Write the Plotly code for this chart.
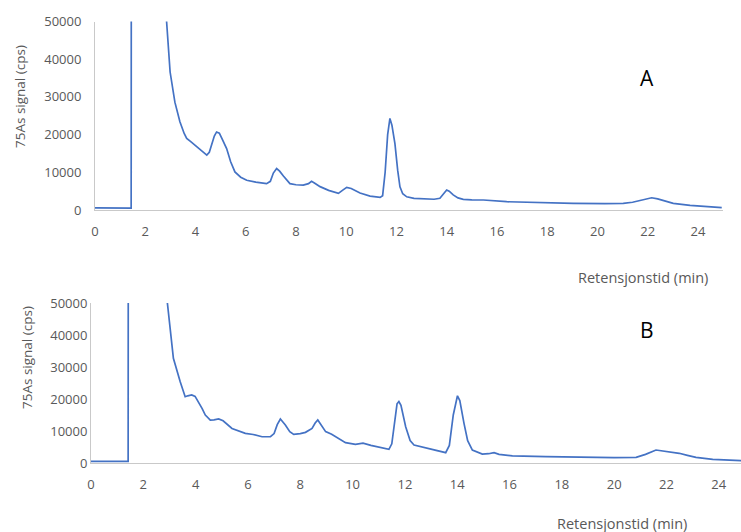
import plotly.graph_objects as go

# ---- data ----
t_A = [0, 0.5, 1.0, 1.44, 1.46, 2.5, 2.85, 2.99, 3.18, 3.38, 3.55, 3.65, 3.8, 3.98, 4.2, 4.45,
       4.55, 4.65, 4.75, 4.84, 4.95, 5.05, 5.24, 5.4, 5.57, 5.8, 6.04, 6.4, 6.83, 6.98, 7.1,
       7.23, 7.35, 7.5, 7.76, 8.0, 8.29, 8.5, 8.62, 8.75, 8.96, 9.3, 9.69, 9.85, 10.02, 10.2,
       10.55, 10.95, 11.35, 11.45, 11.55, 11.65, 11.74, 11.82, 11.94, 12.05, 12.14, 12.25,
       12.41, 12.7, 13.07, 13.5, 13.73, 13.85, 14.0, 14.1, 14.26, 14.45, 14.66, 15.0, 15.46,
       16.39, 17.7, 19.04, 20.3, 21.03, 21.4, 21.7, 21.95, 22.16, 22.4, 22.7, 23.02, 23.69,
       24.35, 24.95]
v_A = [550, 520, 500, 520, 250000, 150000, 50000, 36600, 28600, 23400, 20300, 19000, 18200,
       17200, 15800, 14550, 15300, 17500, 19600, 20700, 20400, 19000, 16300, 12800, 10100,
       8700, 7900, 7400, 7000, 7600, 9800, 11000, 10300, 9000, 7000, 6700, 6600, 7000, 7600,
       7100, 6200, 5200, 4400, 5200, 6000, 5700, 4500, 3700, 3350, 3800, 10000, 20000, 24300,
       22500, 17600, 10500, 6150, 4300, 3500, 3100, 2900, 2850, 3100, 4200, 5300, 5000, 4000,
       3200, 2800, 2700, 2650, 2200, 1950, 1750, 1700, 1750, 2050, 2450, 2950, 3250, 2950,
       2300, 1750, 1230, 880, 620]

t_B = [0, 0.5, 1.0, 1.42, 1.44, 2.5, 2.92, 3.15, 3.41, 3.6, 3.7, 3.85, 3.98, 4.11, 4.25, 4.37,
       4.56, 4.7, 4.88, 5.05, 5.39, 5.9, 6.2, 6.54, 6.86, 7.0, 7.12, 7.24, 7.43, 7.6, 7.75,
       8.0, 8.2, 8.45, 8.57, 8.67, 8.8, 8.97, 9.2, 9.47, 9.73, 10.11, 10.4, 10.7, 11.0, 11.39,
       11.5, 11.6, 11.7, 11.77, 11.85, 12.03, 12.2, 12.35, 12.92, 13.3, 13.56, 13.7, 13.85,
       14.01, 14.1, 14.26, 14.4, 14.58, 14.96, 15.2, 15.41, 15.6, 16.11, 17.39, 18.67, 20.0,
       20.84, 21.2, 21.6, 22.0, 22.49, 22.8, 23.13, 23.77, 24.79, 25.0]
v_B = [500, 500, 500, 500, 250000, 150000, 50000, 32700, 25400, 20700, 21000, 21250, 20800,
       19150, 17000, 15000, 13400, 13500, 13750, 13200, 10800, 9250, 8900, 8200, 8200, 9200,
       12000, 13750, 11900, 9800, 8950, 9200, 9580, 10800, 12500, 13450, 12000, 9800, 9000,
       7700, 6350, 5830, 6200, 5500, 4900, 4270, 6000, 13000, 18500, 19200, 18000, 11350,
       7000, 5620, 4590, 3800, 3230, 5500, 15000, 21000, 19500, 12400, 7000, 4060, 2800,
       2900, 3230, 2700, 2200, 2000, 1770, 1700, 1770, 2700, 4060, 3600, 3030, 2400, 1770,
       1150, 720, 650]

x_ticks = [0, 2, 4, 6, 8, 10, 12, 14, 16, 18, 20, 22, 24]
y_ticks = [0, 10000, 20000, 30000, 40000, 50000]
y_title = "75As signal (cps)"
x_title = "Retensjonstid (min)"
panel_labels = ["A", "B"]

W, H = 741, 532
LINE = "#4472C4"
TXT = "#595959"
AX = "#c9c9c9"
FONT = "Open Sans"

fig = go.Figure()
fig.add_trace(go.Scatter(x=t_A, y=v_A, mode="lines", line=dict(color=LINE, width=1.7),
                         xaxis="x", yaxis="y", showlegend=False, hoverinfo="x+y"))
fig.add_trace(go.Scatter(x=t_B, y=v_B, mode="lines", line=dict(color=LINE, width=1.7),
                         xaxis="x2", yaxis="y2", showlegend=False, hoverinfo="x+y"))


def px_x(p):
    return p / W


def px_y(p):
    return (H - p) / H


xa = dict(tickmode="array", tickvals=x_ticks, showgrid=False, zeroline=False,
          showline=True, linecolor=AX, linewidth=1, ticks="outside", ticklen=9,
          tickcolor="rgba(0,0,0,0)", tickfont=dict(family=FONT, size=13, color=TXT),
          fixedrange=True, automargin=False)
ya = dict(tickmode="array", tickvals=y_ticks, tickformat="d", showgrid=False, zeroline=False,
          showline=True, linecolor=AX, linewidth=1, ticks="outside",
          tickcolor="rgba(0,0,0,0)", tickfont=dict(family=FONT, size=13, color=TXT),
          range=[0, 50000], fixedrange=True, automargin=False)

fig.update_layout(
    width=W, height=H,
    margin=dict(l=0, r=0, t=0, b=0, autoexpand=False),
    paper_bgcolor="white", plot_bgcolor="white",
    font=dict(family=FONT, color=TXT),
    xaxis=dict(xa, domain=[px_x(95), px_x(723)], range=[0, 25], anchor="y"),
    yaxis=dict(ya, domain=[px_y(210), px_y(21.5)], anchor="x", ticklen=10),
    xaxis2=dict(xa, domain=[px_x(91), 1.0], range=[0, 24.85], anchor="y2"),
    yaxis2=dict(ya, domain=[px_y(463), px_y(303)], anchor="x2", ticklen=0),
)

ann = [
    dict(text=x_title, x=px_x(642.5), y=px_y(278), size=14.5),
    dict(text=x_title, x=px_x(622), y=px_y(523), size=14.5),
    dict(text=y_title, x=px_x(20), y=px_y(97), textangle=-90, size=13.5),
    dict(text=y_title, x=px_x(27), y=px_y(357), textangle=-90, size=13.5),
]
for a in ann:
    sz = a.pop("size")
    fig.add_annotation(xref="paper", yref="paper", showarrow=False,
                       xanchor="center", yanchor="middle",
                       font=dict(family=FONT, size=sz, color=TXT), **a)

for lab, yy in zip(panel_labels, [78, 330]):
    fig.add_annotation(text=lab, xref="paper", yref="paper", x=px_x(647), y=px_y(yy),
                       showarrow=False, xanchor="center", yanchor="middle",
                       font=dict(family=FONT, size=21, color="black"))

fig.write_html("out.html",
               config={"displayModeBar": False},
               post_script="document.body.style.margin='0';document.body.style.overflow='hidden';")
